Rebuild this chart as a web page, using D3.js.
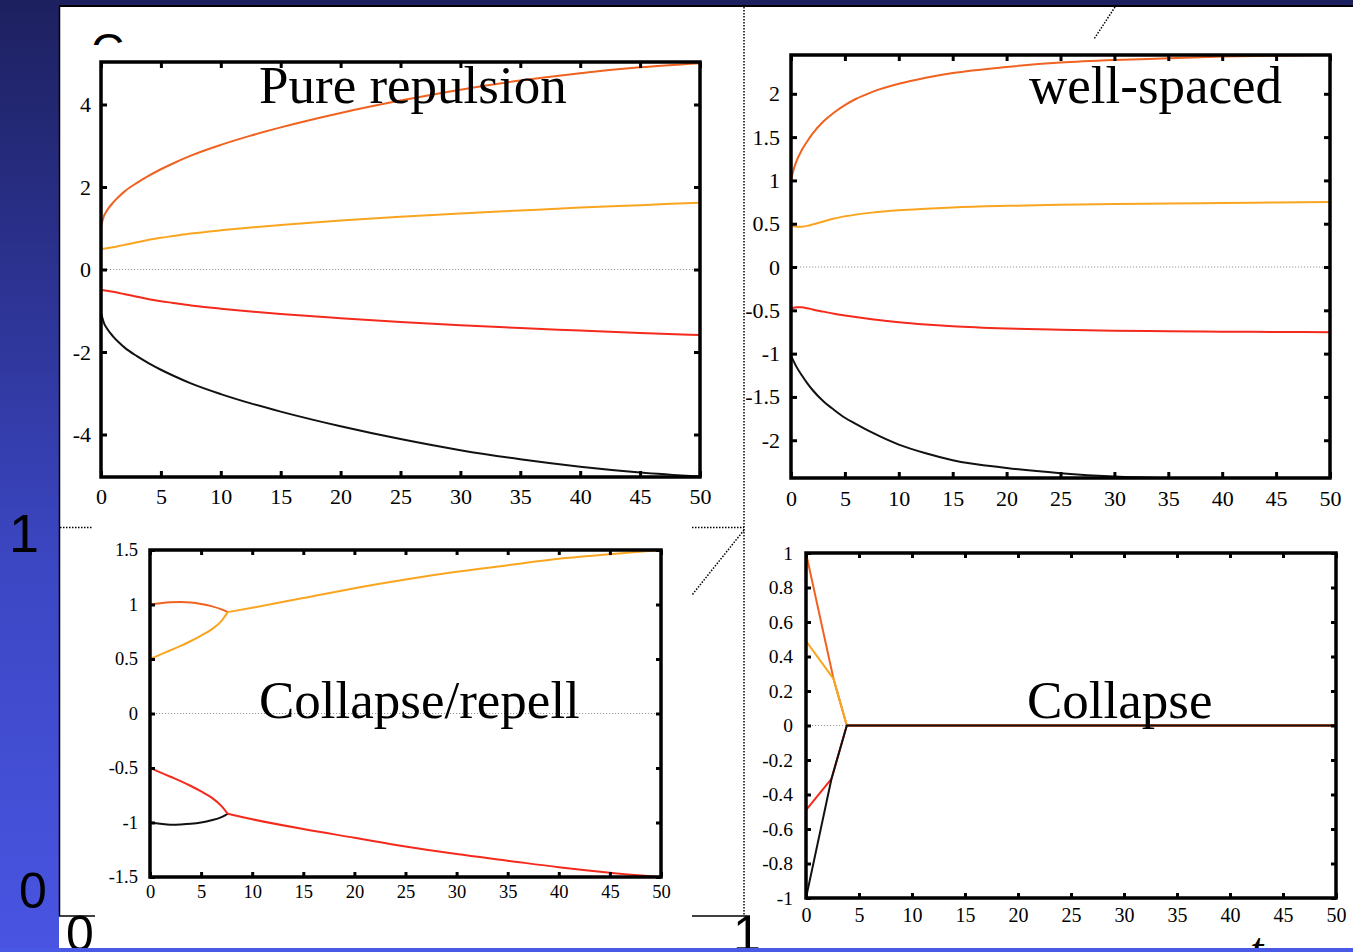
<!DOCTYPE html>
<html><head><meta charset="utf-8">
<script src="https://cdn.jsdelivr.net/npm/d3@7"></script>
<style>html,body{margin:0;padding:0;overflow:hidden;background:#fff}</style>
</head><body>
<svg id="c" width="1353" height="952"></svg>
<script>
// ---------------- DATA ----------------
const xTicks = [0,5,10,15,20,25,30,35,40,45,50];
const xTickLabels = ["0","5","10","15","20","25","30","35","40","45","50"];

// Panel 1: Pure repulsion
const p1Title = "Pure repulsion";
const p1YTicks = [-4,-2,0,2,4];
const p1YTickLabels = ["-4","-2","0","2","4"];
const p1T = [0,0.25,0.5,1,1.5,2,3,4,5,6,7.5,10,12.5,15,20,25,30,35,40,45,50];
const p1DarkOrange  = [1.05,1.3,1.43,1.62,1.77,1.9,2.1,2.275,2.43,2.57,2.76,3.02,3.245,3.445,3.795,4.095,4.36,4.58,4.76,4.9,5.0];
const p1LightOrange = [0.5,0.505,0.515,0.54,0.57,0.6,0.66,0.72,0.77,0.81,0.87,0.95,1.02,1.08,1.19,1.28,1.36,1.43,1.5,1.56,1.62];
const p1Red         = [-0.5,-0.505,-0.515,-0.54,-0.57,-0.6,-0.66,-0.72,-0.77,-0.81,-0.87,-0.95,-1.02,-1.08,-1.18,-1.27,-1.35,-1.42,-1.48,-1.54,-1.59];
const p1Black       = [-1.05,-1.3,-1.43,-1.62,-1.77,-1.9,-2.1,-2.275,-2.43,-2.57,-2.76,-3.02,-3.245,-3.445,-3.8,-4.11,-4.38,-4.6,-4.78,-4.92,-5.02];

// Panel 2: well-spaced
const p2Title = "well-spaced";
const p2YTicks = [-2,-1.5,-1,-0.5,0,0.5,1,1.5,2];
const p2YTickLabels = ["-2","-1.5","-1","-0.5","0","0.5","1","1.5","2"];
const p2T = [0,0.25,0.5,1,1.5,2,3,4,5,6,7.5,10,12.5,15,20,25,30,35,40,45,50];
const p2DarkOrange  = [1.0,1.13,1.22,1.35,1.45,1.54,1.68,1.785,1.87,1.94,2.02,2.115,2.185,2.24,2.31,2.36,2.39,2.41,2.43,2.44,2.45];
const p2LightOrange = [0.48,0.47,0.465,0.465,0.475,0.49,0.525,0.56,0.585,0.605,0.628,0.655,0.673,0.688,0.706,0.718,0.727,0.734,0.74,0.745,0.75];
const p2Red         = [-0.48,-0.47,-0.465,-0.465,-0.475,-0.49,-0.515,-0.54,-0.56,-0.578,-0.603,-0.637,-0.663,-0.684,-0.71,-0.725,-0.735,-0.742,-0.747,-0.75,-0.753];
const p2Black       = [-1.02,-1.09,-1.15,-1.25,-1.34,-1.42,-1.55,-1.65,-1.74,-1.81,-1.91,-2.05,-2.15,-2.23,-2.32,-2.38,-2.42,-2.44,-2.45,-2.46,-2.46];

// Panel 3: Collapse/repell
const p3Title = "Collapse/repell";
const p3YTicks = [-1.5,-1,-0.5,0,0.5,1,1.5];
const p3YTickLabels = ["-1.5","-1","-0.5","0","0.5","1","1.5"];
const p3TPre = [0,1,2,3,4,5,6,7,7.6];
const p3DarkOrange  = [1.0,1.012,1.02,1.022,1.018,1.005,0.985,0.955,0.93];
const p3LightOrange = [0.5,0.54,0.58,0.62,0.665,0.715,0.77,0.85,0.93];
const p3Red         = [-0.5,-0.54,-0.58,-0.62,-0.665,-0.715,-0.77,-0.85,-0.92];
const p3Black       = [-1.0,-1.012,-1.02,-1.018,-1.012,-1.0,-0.98,-0.95,-0.92];
const p3TPost = [7.6,10,15,20,25,30,35,40,45,50];
const p3Upper = [0.93,0.97,1.06,1.15,1.23,1.3,1.36,1.42,1.46,1.5];
const p3Lower = [-0.92,-0.97,-1.06,-1.14,-1.22,-1.29,-1.35,-1.41,-1.46,-1.5];

// Panel 4: Collapse
const p4Title = "Collapse";
const p4YTicks = [-1,-0.8,-0.6,-0.4,-0.2,0,0.2,0.4,0.6,0.8,1];
const p4YTickLabels = ["-1","-0.8","-0.6","-0.4","-0.2","0","0.2","0.4","0.6","0.8","1"];
const p4TUpper = [0,2.6,3.85,50];
const p4DarkOrange  = [1.0,0.27,0,0];
const p4LightOrange = [0.49,0.27,0,0];
const p4TLower = [0,2.4,3.85,50];
const p4Red   = [-0.49,-0.31,0,0];
const p4Black = [-1.0,-0.31,0,0];

const C_DARKORANGE = "#f0621f", C_LIGHTORANGE = "#f9a51f", C_RED = "#f42a1c", C_BLACK = "#111111";

// ---------------- DRAW ----------------
const svg = d3.select("#c");
const defs = svg.append("defs");
const grad = defs.append("linearGradient").attr("id","bg").attr("x1",0).attr("y1",0).attr("x2",0).attr("y2",1);
[[0,"#1d205f"],[0.3,"#2c3392"],[0.6,"#3c47c4"],[1,"#4955e2"]].forEach(s=>grad.append("stop").attr("offset",s[0]).attr("stop-color",s[1]));
svg.append("rect").attr("width",1353).attr("height",952).attr("fill","url(#bg)");
svg.append("rect").attr("x",59).attr("y",7).attr("width",1294).attr("height",941).attr("fill","#fff");

// partial "C" at top-left (clipped)
defs.append("clipPath").attr("id","clipC").append("rect").attr("x",60).attr("y",8).attr("width",100).attr("height",37);
svg.append("text").attr("x",91).attr("y",66).attr("clip-path","url(#clipC)")
  .attr("font-family","Liberation Sans, Arial, sans-serif").attr("font-size",46).text("C");

// slide remnants: axis labels
const sans = "Liberation Sans, Arial, sans-serif";
svg.append("text").attr("x",9).attr("y",552).attr("font-family",sans).attr("font-size",54).attr("fill","#000").text("1");
svg.append("text").attr("x",19).attr("y",908).attr("font-family",sans).attr("font-size",50).attr("fill","#000").text("0");
svg.append("text").attr("x",66).attr("y",951).attr("font-family",sans).attr("font-size",50).attr("fill","#000").text("0");
svg.append("text").attr("x",733).attr("y",951).attr("font-family",sans).attr("font-size",50).attr("fill","#000").text("1");
svg.append("text").attr("x",1250).attr("y",966).attr("font-family","Liberation Serif, serif").attr("font-style","italic").attr("font-size",48).attr("fill","#000").text("t");

// borders and guide lines
svg.append("line").attr("x1",59).attr("x2",1353).attr("y1",6).attr("y2",6).attr("stroke","#000").attr("stroke-width",2);
svg.append("line").attr("x1",59.5).attr("x2",59.5).attr("y1",6).attr("y2",916).attr("stroke","#000").attr("stroke-width",1.5);
svg.append("line").attr("x1",59).attr("x2",95).attr("y1",916).attr("y2",916).attr("stroke","#000").attr("stroke-width",1.5);
svg.append("line").attr("x1",692).attr("x2",750).attr("y1",916).attr("y2",916).attr("stroke","#000").attr("stroke-width",1.5);
const dot = (x1,y1,x2,y2)=>svg.append("line").attr("x1",x1).attr("y1",y1).attr("x2",x2).attr("y2",y2)
  .attr("stroke","#000").attr("stroke-width",1.5).attr("stroke-dasharray","1.5,1.5");
dot(744,7,744,916);
dot(60,527.5,93,527.5);
dot(692,527.5,744,527.5);
dot(744,530,692,595);
dot(1115,7,1094,39);

// bottom blue strip
svg.append("rect").attr("x",0).attr("y",948).attr("width",1353).attr("height",4).attr("fill","#4a58e6");

const serif = "Liberation Serif, Times New Roman, serif";

function drawPanel(cfg){
  const x = d3.scaleLinear().domain([0,50]).range([cfg.left,cfg.right]);
  const y = d3.scaleLinear().domain(cfg.yDomain).range([cfg.bottom,cfg.top]);
  const g = svg.append("g");
  const cid = "clip"+cfg.id;
  defs.append("clipPath").attr("id",cid).append("rect")
    .attr("x",cfg.left).attr("y",cfg.top).attr("width",cfg.right-cfg.left).attr("height",cfg.bottom-cfg.top);
  g.append("rect").attr("x",cfg.left).attr("y",cfg.top).attr("width",cfg.right-cfg.left).attr("height",cfg.bottom-cfg.top).attr("fill","#fff");
  // zero line
  g.append("line").attr("x1",x(0)).attr("x2",x(50)).attr("y1",y(0)).attr("y2",y(0))
    .attr("stroke","#9a9a9a").attr("stroke-width",1).attr("stroke-dasharray","1.2,1.8");
  const lg = g.append("g").attr("clip-path",`url(#${cid})`);
  cfg.series.forEach(s=>{
    const line = d3.line().x(d=>x(d[0])).y(d=>y(d[1])).curve(s.curve || d3.curveMonotoneX);
    lg.append("path").datum(d3.zip(s.t,s.v)).attr("d",line).attr("fill","none")
      .attr("stroke",s.color).attr("stroke-width",cfg.lw||2).attr("stroke-linejoin","round");
  });
  // title
  g.append("text").attr("x",cfg.titleX).attr("y",cfg.titleY).attr("font-family",serif)
    .attr("font-size",cfg.titleSize).attr("fill","#000").text(cfg.title);
  // axes
  const tl = cfg.tickLen;
  const styleAxis = (sel, fs)=>{
    sel.select(".domain").remove();
    sel.selectAll(".tick line").attr("stroke","#000").attr("stroke-width",3);
    sel.selectAll(".tick text").attr("font-family",serif).attr("font-size",fs).attr("fill","#000");
  };
  const bx = g.append("g").attr("transform",`translate(0,${cfg.bottom})`)
    .call(d3.axisBottom(x).tickValues(xTicks).tickFormat((d,i)=>xTickLabels[i]).tickSize(-tl).tickPadding(cfg.xPad));
  styleAxis(bx, cfg.xfs);
  const tx = g.append("g").attr("transform",`translate(0,${cfg.top})`)
    .call(d3.axisTop(x).tickValues(xTicks).tickFormat(()=>"").tickSize(-tl));
  styleAxis(tx, cfg.xfs);
  const ly = g.append("g").attr("transform",`translate(${cfg.left},0)`)
    .call(d3.axisLeft(y).tickValues(cfg.yTicks).tickFormat((d,i)=>cfg.yTickLabels[i]).tickSize(-tl).tickPadding(cfg.yPad));
  styleAxis(ly, cfg.yfs);
  const ry = g.append("g").attr("transform",`translate(${cfg.right},0)`)
    .call(d3.axisRight(y).tickValues(cfg.yTicks).tickFormat(()=>"").tickSize(-tl));
  styleAxis(ry, cfg.yfs);
  // frame
  g.append("rect").attr("x",cfg.left).attr("y",cfg.top).attr("width",cfg.right-cfg.left).attr("height",cfg.bottom-cfg.top)
    .attr("fill","none").attr("stroke","#000").attr("stroke-width",cfg.frameW||3.5);
}

drawPanel({id:1,left:101,right:700,top:62,bottom:477,yDomain:[-5.03,5.03],
  yTicks:p1YTicks,yTickLabels:p1YTickLabels,xfs:22,yfs:22,xPad:11,yPad:10,tickLen:6,
  title:p1Title,titleX:259,titleY:103,titleSize:53,
  series:[
    {t:p1T,v:p1DarkOrange,color:C_DARKORANGE},
    {t:p1T,v:p1LightOrange,color:C_LIGHTORANGE},
    {t:p1T,v:p1Black,color:C_BLACK},
    {t:p1T,v:p1Red,color:C_RED}
  ]});

drawPanel({id:2,left:791,right:1330,top:55,bottom:478,yDomain:[-2.436,2.448],
  yTicks:p2YTicks,yTickLabels:p2YTickLabels,xfs:22,yfs:22,xPad:12,yPad:11,tickLen:6,
  title:p2Title,titleX:1029,titleY:103,titleSize:53,
  series:[
    {t:p2T,v:p2DarkOrange,color:C_DARKORANGE},
    {t:p2T,v:p2LightOrange,color:C_LIGHTORANGE},
    {t:p2T,v:p2Black,color:C_BLACK},
    {t:p2T,v:p2Red,color:C_RED}
  ]});

drawPanel({id:3,left:150,right:661,top:550,bottom:877,yDomain:[-1.5,1.5],
  yTicks:p3YTicks,yTickLabels:p3YTickLabels,xfs:18.5,yfs:18.5,xPad:8,yPad:12,tickLen:5,
  title:p3Title,titleX:259,titleY:718,titleSize:53,
  series:[
    {t:p3TPre,v:p3DarkOrange,color:C_DARKORANGE},
    {t:p3TPre,v:p3LightOrange,color:C_LIGHTORANGE},
    {t:p3TPost,v:p3Upper,color:C_LIGHTORANGE},
    {t:p3TPre,v:p3Black,color:C_BLACK},
    {t:p3TPre,v:p3Red,color:C_RED},
    {t:p3TPost,v:p3Lower,color:C_RED}
  ]});

drawPanel({id:4,left:806,right:1336,top:553,bottom:898,yDomain:[-1,1],
  yTicks:p4YTicks,yTickLabels:p4YTickLabels,xfs:20,yfs:19.5,xPad:10,yPad:13,tickLen:5,
  title:p4Title,titleX:1027,titleY:718,titleSize:53,
  series:[
    {t:p4TUpper,v:p4DarkOrange,color:C_DARKORANGE,curve:d3.curveLinear},
    {t:p4TUpper,v:p4LightOrange,color:C_LIGHTORANGE,curve:d3.curveLinear},
    {t:p4TLower,v:p4Red,color:C_RED,curve:d3.curveLinear},
    {t:p4TLower,v:p4Black,color:C_BLACK,curve:d3.curveLinear}
  ]});
</script>
</body></html>
